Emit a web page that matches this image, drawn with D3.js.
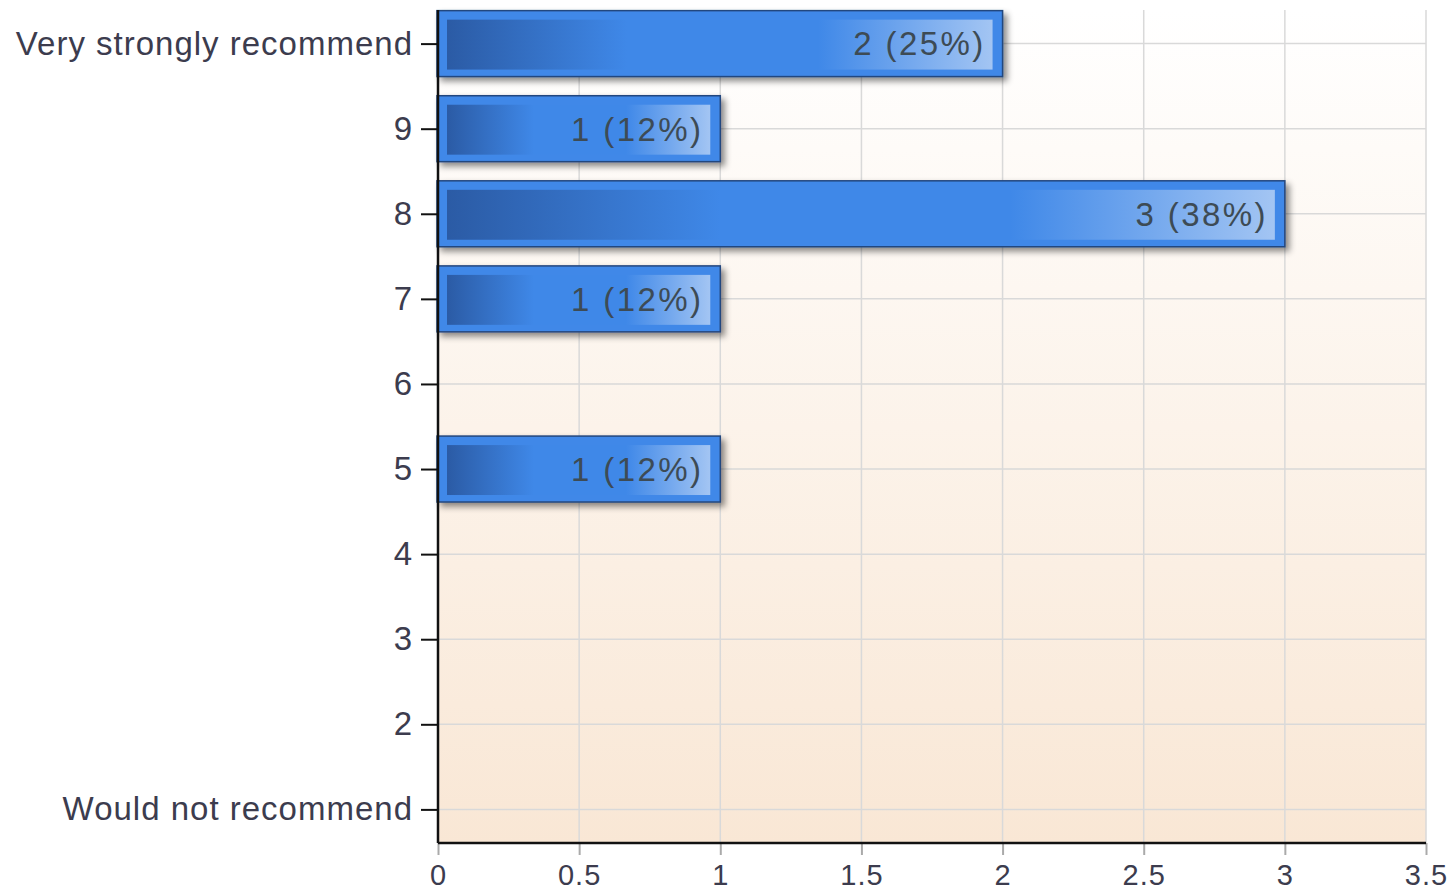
<!DOCTYPE html>
<html>
<head>
<meta charset="utf-8">
<script src="https://cdn.jsdelivr.net/npm/d3@7"></script>
<style>
  html, body { margin: 0; padding: 0; background: #fff; }
  svg { display: block; font-family: "Liberation Sans", Arial, sans-serif; }
  .grid line { stroke: #d9d9d9; stroke-width: 1.5; }
  .bar-label { fill: #3d4b55; font-size: 33px; text-anchor: end; letter-spacing: 2.4px; }
  .y-axis text { fill: #3c3c4e; font-size: 33px; letter-spacing: 1px; }
  .x-axis text { fill: #3c3c4e; font-size: 29px; letter-spacing: 1px; }
</style>
</head>
<body>
<div id="chart"></div>
<script>
// --- data ---
const categories = ['Very strongly recommend', '9', '8', '7', '6', '5', '4', '3', '2', 'Would not recommend'];
const counts = [2, 1, 3, 1, 0, 1, 0, 0, 0, 0];
const percents = [25, 12, 38, 12, 0, 12, 0, 0, 0, 0];
const xTicks = [0, 0.5, 1, 1.5, 2, 2.5, 3, 3.5];

const width = 1455, height = 894;
const margin = { top: 10, right: 29, bottom: 51, left: 438 };
const plotW = width - margin.left - margin.right;
const plotH = height - margin.top - margin.bottom;

const svg = d3.select('#chart').append('svg')
    .attr('width', width)
    .attr('height', height);

const defs = svg.append('defs');

// background fade: white at top to peach at bottom
const bg = defs.append('linearGradient').attr('id', 'bg').attr('x1', 0).attr('y1', 0).attr('x2', 0).attr('y2', 1);
bg.append('stop').attr('offset', 0).attr('stop-color', '#ffffff');
bg.append('stop').attr('offset', 1).attr('stop-color', '#f9e7d5');

// inner bar shading
const inner = defs.append('linearGradient').attr('id', 'inner').attr('x1', 0).attr('x2', 1).attr('y1', 0).attr('y2', 0);
inner.append('stop').attr('offset', 0).attr('stop-color', '#2b5ba5');
inner.append('stop').attr('offset', 0.33).attr('stop-color', '#3f88e8');
inner.append('stop').attr('offset', 0.68).attr('stop-color', '#3f88e8');
inner.append('stop').attr('offset', 1).attr('stop-color', '#a3c5f3');

const shadow = defs.append('filter').attr('id', 'shadow')
    .attr('x', '-5%').attr('y', '-20%').attr('width', '115%').attr('height', '150%');
shadow.append('feDropShadow')
    .attr('dx', 4).attr('dy', 4).attr('stdDeviation', 3)
    .attr('flood-color', '#000').attr('flood-opacity', 0.45);

const g = svg.append('g').attr('transform', `translate(${margin.left},${margin.top})`);

const x = d3.scaleLinear().domain([0, 3.5]).range([0, plotW]);
const y = d3.scalePoint().domain(categories).range([0, plotH]).padding(0.395);
const barH = y.step() * 0.775;

g.append('rect')
    .attr('width', plotW)
    .attr('height', plotH)
    .attr('fill', 'url(#bg)');

// --- grid ---
const grid = g.append('g').attr('class', 'grid');
grid.selectAll('.vx')
    .data(xTicks.slice(1))
    .enter().append('line')
    .attr('x1', d => x(d)).attr('x2', d => x(d))
    .attr('y1', 0).attr('y2', plotH);
grid.selectAll('.hy')
    .data(categories)
    .enter().append('line')
    .attr('x1', 0).attr('x2', plotW)
    .attr('y1', d => y(d)).attr('y2', d => y(d));

// --- axes ---
const xAxis = g.append('g')
    .attr('class', 'x-axis')
    .attr('transform', `translate(0,${plotH})`)
    .call(d3.axisBottom(x).tickValues(xTicks).tickSize(12).tickFormat(d3.format('')));
xAxis.select('.domain').remove();
xAxis.selectAll('.tick line').attr('stroke', '#aaaaaa').attr('stroke-width', 2);
xAxis.selectAll('text').attr('y', 42).attr('dy', 0);

// --- bars ---
const rows = categories.map((c, i) => ({ cat: c, count: counts[i], pct: percents[i] }))
    .filter(d => d.count > 0);

const bar = g.selectAll('.bar')
    .data(rows)
    .enter().append('g')
    .attr('class', 'bar')
    .attr('transform', d => `translate(0,${y(d.cat) - barH / 2})`);

bar.append('rect')
    .attr('x', -1)
    .attr('width', d => x(d.count) + 1)
    .attr('height', barH)
    .attr('fill', '#3f88e8')
    .attr('stroke', '#24477e')
    .attr('stroke-width', 1.5)
    .attr('filter', 'url(#shadow)');

bar.append('rect')
    .attr('x', 9)
    .attr('y', 9)
    .attr('width', d => x(d.count) - 19)
    .attr('height', barH - 16)
    .attr('fill', 'url(#inner)');

bar.append('text')
    .attr('class', 'bar-label')
    .attr('x', d => x(d.count) - 17)
    .attr('y', barH / 2)
    .attr('dy', '0.36em')
    .text(d => `${d.count} (${d.pct}%)`);

// axis lines on top
g.append('line')
    .attr('x1', 0).attr('x2', plotW)
    .attr('y1', plotH).attr('y2', plotH)
    .attr('stroke', '#111').attr('stroke-width', 2.5);

const yAxis = g.append('g')
    .attr('class', 'y-axis')
    .call(d3.axisLeft(y).tickSize(17).tickPadding(8));
yAxis.select('.domain').remove();
yAxis.selectAll('.tick line').attr('stroke', '#111').attr('stroke-width', 2);

g.append('line')
    .attr('x1', 0).attr('x2', 0)
    .attr('y1', 0).attr('y2', plotH)
    .attr('stroke', '#111').attr('stroke-width', 2.5);
</script>
</body>
</html>
